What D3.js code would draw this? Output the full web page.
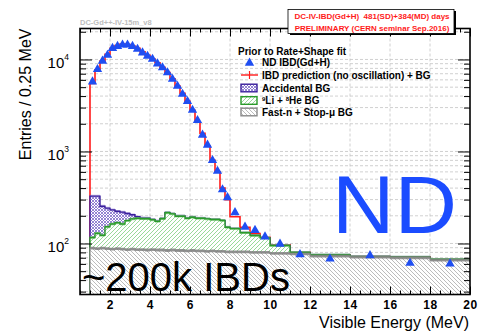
<!DOCTYPE html>
<html>
<head>
<meta charset="utf-8">
<script src="https://cdn.jsdelivr.net/npm/d3@7"></script>
<style>
  html, body { margin: 0; padding: 0; background: #fff; }
  svg { display: block; }
  text { font-family: "Liberation Sans", Arial, Helvetica, sans-serif; }
</style>
</head>
<body>
<svg id="chart" width="479" height="332"></svg>
<script>
// Visible-energy bin edges (MeV)
const binEdges = [1.0, 1.25, 1.5, 1.75, 2.0, 2.25, 2.5, 2.75, 3.0, 3.25, 3.5, 3.75,
  4.0, 4.25, 4.5, 4.75, 5.0, 5.25, 5.5, 5.75, 6.0, 6.25, 6.5, 6.75, 7.0, 7.25,
  7.5, 7.75, 8.0, 8.5, 9.0, 9.5, 10, 11, 12, 14, 16, 18, 20];

// ND IBD candidates, entries per 0.25 MeV
const ndData = [5800, 7900, 9750, 11300, 13400, 14100, 14600, 14600, 14100, 13100,
  12000, 11000, 10200, 9100, 8250, 7300, 6200, 5200, 4250, 3550, 2850, 2210, 1530,
  1190, 810, 620, 390, 320, 220, 153, 141, 120, 100, 77, 69, 75, 62, 61];

// IBD prediction (no oscillation) + backgrounds
const prediction = [5500, 7700, 9600, 11400, 13200, 14200, 14700, 14500, 14000, 13200,
  12100, 11100, 10100, 9200, 8200, 7200, 6150, 5150, 4300, 3500, 2800, 2100, 1580,
  1150, 800, 600, 400, 300, 195, 150, 128, 117, 97, 80, 75, 72, 71, 67];

// Background components (stacked: fast-n, then 9Li+8He, then accidentals)
const fastN = [89, 88, 89, 88, 87, 88, 87, 86, 87, 86, 86, 85, 86, 85, 85, 84, 85,
  84, 84, 83, 84, 83, 83, 82, 83, 82, 82, 81, 81, 81, 80, 80, 78, 77, 73, 71, 70, 66];
const lithium = [27, 41, 34, 64, 76, 80, 76, 91, 98, 102, 100, 101, 95, 89, 101, 132,
  125, 114, 114, 105, 109, 105, 105, 103, 99, 100, 96, 69, 64, 50, 42, 35, 17, 3, 2, 1, 1, 1];
const accidental = [211, 198, 131, 90, 69, 56, 56, 35, 20, 7, 4, 3, 2, 2, 1.5, 1, 1, 1,
  1, 0.8, 0.8, 0.6, 0.6, 0.5, 0.5, 0.4, 0.4, 0.3, 0.3, 0.3, 0.2, 0.2, 0.1, 0.1, 0.1, 0.1, 0.1, 0.1];

const xMajorTicks = [2, 4, 6, 8, 10, 12, 14, 16, 18, 20];
const xMinorTicks = [0.5, 1, 1.5, 2.5, 3, 3.5, 4.5, 5, 5.5, 6.5, 7, 7.5, 8.5, 9, 9.5,
  10.5, 11, 11.5, 12.5, 13, 13.5, 14.5, 15, 15.5, 16.5, 17, 17.5, 18.5, 19, 19.5];
const yMajorTicks = [1e2, 1e3, 1e4];
const yMinorTicks = [30, 40, 50, 60, 70, 80, 90, 200, 300, 400, 500, 600, 700, 800, 900,
  2000, 3000, 4000, 5000, 6000, 7000, 8000, 9000, 20000];

const legendItems = ["ND IBD(Gd+H)", "IBD prediction (no oscillation) + BG", "Accidental BG",
  "Li + He BG", "Fast-n + Stop-\u03bc BG"];

const svg = d3.select("#chart");
const plot = { left: 80, right: 470, top: 28.5, bottom: 294.5 };

const x = d3.scaleLinear().domain([0.5, 20]).range([plot.left, plot.right]);
const y = d3.scaleLog().domain([27.9, 21700]).range([plot.bottom, plot.top]);
const yMin = y.domain()[0];

// hatch patterns
const defs = svg.append("defs");
const pPurple = defs.append("pattern").attr("id", "hatchAcc").attr("patternUnits", "userSpaceOnUse")
  .attr("width", 3).attr("height", 3);
pPurple.append("rect").attr("width", 3).attr("height", 3).attr("fill", "#fff");
pPurple.append("path").attr("d", "M0,0L3,3M3,0L0,3").attr("stroke", "#7b67c8").attr("stroke-width", 0.8);

const pGreen = defs.append("pattern").attr("id", "hatchLi").attr("patternUnits", "userSpaceOnUse")
  .attr("width", 4).attr("height", 4);
pGreen.append("rect").attr("width", 4).attr("height", 4).attr("fill", "#fff");
pGreen.append("path").attr("d", "M-1,1L1,-1M0,4L4,0M3,5L5,3").attr("stroke", "#8fd48f").attr("stroke-width", 0.9);

const pGrey = defs.append("pattern").attr("id", "hatchFn").attr("patternUnits", "userSpaceOnUse")
  .attr("width", 4).attr("height", 4);
pGrey.append("rect").attr("width", 4).attr("height", 4).attr("fill", "#fff");
pGrey.append("path").attr("d", "M-1,3L1,5M0,0L4,4M3,-1L5,1").attr("stroke", "#b4b4b4").attr("stroke-width", 0.9);

defs.append("clipPath").attr("id", "plotClip").append("rect")
  .attr("x", plot.left).attr("y", plot.top)
  .attr("width", plot.right - plot.left).attr("height", plot.bottom - plot.top);

// gridlines
const grid = svg.append("g").attr("stroke", "#c4c4c4").attr("stroke-width", 0.8)
  .attr("stroke-dasharray", "3,2");
grid.selectAll("line.gy").data(yMajorTicks.concat(yMinorTicks)).join("line")
  .attr("x1", plot.left).attr("x2", plot.right)
  .attr("y1", d => y(d)).attr("y2", d => y(d));
grid.selectAll("line.gx").data(xMajorTicks.filter(d => d < 20)).join("line")
  .attr("y1", plot.top).attr("y2", plot.bottom)
  .attr("x1", d => x(d)).attr("x2", d => x(d));

// per-bin records with stacked totals
const bins = binEdges.slice(0, -1).map((e, i) => {
  const f = fastN[i], l = f + lithium[i], a = l + accidental[i];
  return { e, fn: f, li: l, acc: a, pred: prediction[i], nd: ndData[i],
    c: (e + binEdges[i + 1]) / 2 };
});
// closing point so stepped shapes reach the last edge
const last = Object.assign({}, bins[bins.length - 1], { e: binEdges[binEdges.length - 1] });
const steps = bins.concat([last]);

const g = svg.append("g").attr("clip-path", "url(#plotClip)");

const stepLine = key => d3.line().curve(d3.curveStepAfter)
  .x(d => x(d.e)).y(d => y(d[key]));
const withBase = key => [Object.assign({}, steps[0], { [key]: yMin })].concat(steps);

// prediction histogram
g.append("path").datum(withBase("pred"))
  .attr("d", stepLine("pred")).attr("fill", "none")
  .attr("stroke", "#ff1a1a").attr("stroke-width", 1.6);

function layer(lowKey, highKey, fillId, bandColor, lineColor, lineWidth) {
  const area = d3.area().curve(d3.curveStepAfter).x(d => x(d.e))
    .y0(d => lowKey ? y(d[lowKey]) : plot.bottom).y1(d => y(d[highKey]));
  g.append("path").datum(steps).attr("d", area).attr("fill", `url(#${fillId})`);
  const band = d3.area().curve(d3.curveStepAfter).x(d => x(d.e))
    .y0(d => y(d[highKey] * 0.965)).y1(d => y(d[highKey] * 1.035));
  g.append("path").datum(steps).attr("d", band).attr("fill", bandColor);
  g.append("path").datum(withBase(highKey)).attr("d", stepLine(highKey))
    .attr("fill", "none").attr("stroke", lineColor).attr("stroke-width", lineWidth);
}
layer("li", "acc", "hatchAcc", "rgba(150,130,215,0.55)", "#3a1f9c", 1.4);
layer("fn", "li", "hatchLi", "rgba(120,200,120,0.65)", "#2a9a2a", 1.4);
layer(null, "fn", "hatchFn", "rgba(120,120,120,0.75)", "#8a8a8a", 1.2);

// data points
g.selectAll("path.nd").data(bins).join("path")
  .attr("class", "nd")
  .attr("d", d3.symbol(d3.symbolTriangle, 38))
  .attr("transform", d => `translate(${x(d.c)},${y(d.nd) + 0.5})`)
  .attr("fill", "#1f4ef2");

// big annotations
svg.append("text").attr("x", 332).attr("y", 233).text("ND")
  .attr("font-family", "'Open Sans', Lato, sans-serif").attr("font-size", 81)
  .attr("textLength", 125).attr("lengthAdjust", "spacingAndGlyphs")
  .attr("fill", "#1b4cff");
svg.append("text").attr("x", 82).attr("y", 291).text("~200k IBDs")
  .attr("font-family", "Lato, 'Open Sans', sans-serif").attr("font-size", 40)
  .attr("fill", "#000");

// axes
const axes = svg.append("g");
const xAx = axes.append("g").attr("transform", `translate(0,${plot.bottom})`)
  .call(d3.axisBottom(x).tickValues(xMajorTicks).tickSize(-8).tickPadding(6));
xAx.selectAll("text").attr("font-size", 12).attr("font-weight", "bold")
  .attr("font-family", "'Liberation Sans', Arial, sans-serif").attr("letter-spacing", 0.6);
axes.append("g").attr("transform", `translate(0,${plot.bottom})`)
  .call(d3.axisBottom(x).tickValues(xMinorTicks).tickSize(-4).tickFormat(""));
axes.append("g").attr("transform", `translate(0,${plot.top})`)
  .call(d3.axisTop(x).tickValues(xMajorTicks).tickSize(-8).tickFormat(""));
axes.append("g").attr("transform", `translate(0,${plot.top})`)
  .call(d3.axisTop(x).tickValues(xMinorTicks).tickSize(-4).tickFormat(""));

const yAx = axes.append("g").attr("transform", `translate(${plot.left},0)`)
  .call(d3.axisLeft(y).tickValues(yMajorTicks).tickSize(-12).tickPadding(11)
    .tickFormat(d => "10"));
yAx.selectAll("text").attr("font-size", 15).attr("dy", "0.55em")
  .append("tspan").attr("font-size", 8.5).attr("dy", "-0.95em")
  .text(d => Math.round(Math.log10(d)));
axes.append("g").attr("transform", `translate(${plot.left},0)`)
  .call(d3.axisLeft(y).tickValues(yMinorTicks).tickSize(-6).tickFormat(""));
axes.append("g").attr("transform", `translate(${plot.right},0)`)
  .call(d3.axisRight(y).tickValues(yMajorTicks).tickSize(-12).tickFormat(""));
axes.append("g").attr("transform", `translate(${plot.right},0)`)
  .call(d3.axisRight(y).tickValues(yMinorTicks).tickSize(-6).tickFormat(""));
axes.selectAll(".domain").remove();
axes.selectAll(".tick line").attr("stroke", "#000").attr("stroke-width", 1);

svg.append("rect").attr("x", plot.left).attr("y", plot.top)
  .attr("width", plot.right - plot.left).attr("height", plot.bottom - plot.top)
  .attr("fill", "none").attr("stroke", "#000").attr("stroke-width", 1.6);

// axis titles
svg.append("text").attr("transform", `translate(31,${plot.top}) rotate(-90)`)
  .attr("text-anchor", "end").attr("font-size", 16).text("Entries / 0.25 MeV");
svg.append("text").attr("x", plot.right - 1).attr("y", 328).attr("text-anchor", "end")
  .attr("font-size", 16).text("Visible Energy (MeV)");

// plot tag
svg.append("text").attr("x", 80).attr("y", 25).attr("font-size", 7.5)
  .attr("fill", "#bdbdbd").attr("font-weight", "bold").text("DC-Gd++-IV-15m_v8");

// info box with shadow
svg.append("rect").attr("x", 290).attr("y", 11).attr("width", 166).attr("height", 24).attr("fill", "#000");
svg.append("rect").attr("x", 288).attr("y", 9.5).attr("width", 166).attr("height", 24)
  .attr("fill", "#fff").attr("stroke", "#000").attr("stroke-width", 0.8);
const info = svg.append("text").attr("font-size", 8).attr("font-weight", "bold")
  .attr("fill", "#ff1a1a").attr("text-anchor", "middle").style("white-space", "pre");
info.append("tspan").attr("x", 372).attr("y", 18.5).text("DC-IV-IBD(Gd+H)  481(SD)+384(MD) days");
info.append("tspan").attr("x", 372).attr("y", 31).text("PRELIMINARY (CERN seminar Sep.2016)");

// legend
const leg = svg.append("g").attr("font-size", 10).attr("font-weight", "bold");
leg.append("text").attr("x", 238).attr("y", 54.5).text("Prior to Rate+Shape fit");
const rowY = [62.5, 75, 88, 100.5, 112];
leg.selectAll("text.item").data(legendItems).join("text").attr("class", "item")
  .attr("x", 262).attr("y", (d, i) => rowY[i] + 3.6)
  .each(function(d, i) {
    const t = d3.select(this);
    if (i === 3) {
      t.append("tspan").attr("font-size", 6).attr("dy", -3.5).text("9");
      t.append("tspan").attr("dy", 3.5).text("Li + ");
      t.append("tspan").attr("font-size", 6).attr("dy", -3.5).text("8");
      t.append("tspan").attr("dy", 3.5).text("He BG");
    } else {
      t.text(d);
    }
  });
leg.append("path").attr("d", d3.symbol(d3.symbolTriangle, 38))
  .attr("transform", `translate(249.5,${rowY[0] + 0.5})`).attr("fill", "#1f4ef2");
leg.append("line").attr("x1", 241).attr("x2", 258).attr("y1", rowY[1]).attr("y2", rowY[1])
  .attr("stroke", "#ff1a1a").attr("stroke-width", 1.4);
leg.append("line").attr("x1", 249.5).attr("x2", 249.5).attr("y1", rowY[1] - 4).attr("y2", rowY[1] + 4)
  .attr("stroke", "#ff1a1a").attr("stroke-width", 1.2);
const boxStyle = [["hatchAcc", "#3a1f9c"], ["hatchLi", "#2a9a2a"], ["hatchFn", "#8a8a8a"]];
boxStyle.forEach(([fid, col], k) => {
  leg.append("rect").attr("x", 241).attr("y", rowY[k + 2] - 3.8).attr("width", 16).attr("height", 7.6)
    .attr("fill", `url(#${fid})`).attr("stroke", col).attr("stroke-width", 1.4);
});
</script>
</body>
</html>
